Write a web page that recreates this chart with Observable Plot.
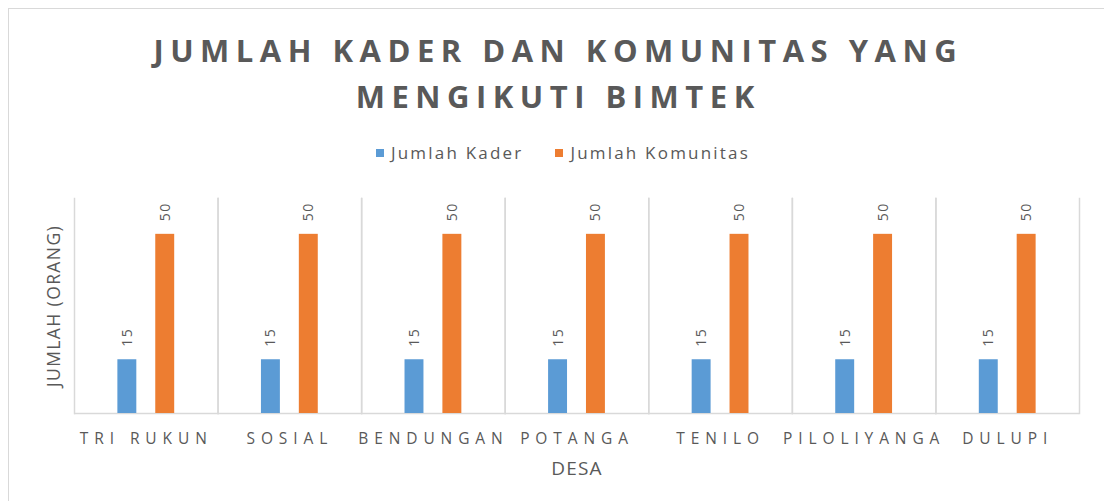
<!DOCTYPE html>
<html>
<head>
<meta charset="utf-8">
<script src="https://cdn.jsdelivr.net/npm/d3@7"></script>
<script src="https://cdn.jsdelivr.net/npm/@observablehq/plot@0.6"></script>
<style>
  html, body { margin: 0; padding: 0; background: #fff; width: 1104px; height: 501px; overflow: hidden; }
  body { position: relative; font-family: "Open Sans", sans-serif; color: #595959; }
  #border { position: absolute; left: 8px; top: 8px; width: 1110px; height: 500px; border: 1px solid #d9d9d9; box-sizing: border-box; }
  #title { position: absolute; left: 8px; width: 1094px; top: 27px; text-align: center; font-weight: 700; font-size: 31px; line-height: 46px; letter-spacing: 6.5px; padding-left: 6.5px; box-sizing: border-box; color: #595959; }
  #legend { position: absolute; left: 8px; width: 1110px; top: 141px; display: flex; justify-content: center; gap: 32px; font-size: 17px; line-height: 24px; letter-spacing: 2.2px; color: #595959; }
  #legend .item { display: flex; align-items: center; }
  #legend .sw { width: 8px; height: 8px; margin-right: 7px; display: inline-block; }
  #chart { position: absolute; left: 0; top: 170px; }
  g[aria-label="fx-axis tick label"] text { letter-spacing: 5.9px; }
  g[aria-label="fx-axis label"] { font-size: 19px; }
  g[aria-label="fx-axis label"] text { letter-spacing: 1.2px; }
  g[aria-label="y-axis label"] text { letter-spacing: 1.4px; }
  g[aria-label="text"] text { letter-spacing: 1.5px; }
</style>
</head>
<body>
<div id="border"></div>
<div id="title"></div>
<div id="legend"></div>
<div id="chart"></div>
<script>
const titleLines = ["JUMLAH KADER DAN KOMUNITAS YANG", "MENGIKUTI BIMTEK"];
const desa = ["TRI RUKUN", "SOSIAL", "BENDUNGAN", "POTANGA", "TENILO", "PILOLIYANGA", "DULUPI"];
const series = ["Jumlah Kader", "Jumlah Komunitas"];
const kader = [15, 15, 15, 15, 15, 15, 15];
const komunitas = [50, 50, 50, 50, 50, 50, 50];
const colors = ["#5B9BD5", "#ED7D31"];
const yDomain = [0, 60];
const xLabel = "DESA";
const yLabel = "JUMLAH (ORANG)";

document.getElementById("title").innerHTML = titleLines.map(t => `<div>${t}</div>`).join("");
document.getElementById("legend").innerHTML = series.map((s, i) =>
  `<span class="item"><span class="sw" style="background:${colors[i]}"></span>${s}</span>`).join("");

const data = desa.flatMap((d, i) => [
  {desa: d, seri: series[0], v: kader[i]},
  {desa: d, seri: series[1], v: komunitas[i]}
]);

const chart = Plot.plot({
  width: 1104,
  height: 320,
  marginLeft: 74,
  marginRight: 25,
  marginTop: 28,
  marginBottom: 77,
  style: {fontFamily: "Open Sans", color: "#595959", fontSize: "15px", background: "transparent"},
  fx: {domain: desa, padding: 0, round: false},
  x: {domain: series, paddingInner: 0.5, paddingOuter: 1.145, round: false, axis: null},
  y: {domain: yDomain},
  color: {domain: series, range: colors},
  marks: [
    Plot.frame({anchor: "left", stroke: "#d9d9d9", strokeWidth: 1.5}),
    Plot.frame({anchor: "right", stroke: "#d9d9d9", strokeWidth: 1.5}),
    Plot.ruleY([0], {stroke: "#d9d9d9", strokeWidth: 1.5}),
    Plot.barY(data, {fx: "desa", x: "seri", y: "v", fill: "seri"}),
    Plot.text(data, {fx: "desa", x: "seri", y: "v", text: d => String(d.v), rotate: -90, textAnchor: "start", dy: -13, fill: "#595959", fontSize: 14}),
    Plot.axisFx({anchor: "bottom", tickSize: 0, tickPadding: 19, fontSize: 15.5, label: xLabel, labelAnchor: "center", labelOffset: 61, labelArrow: "none"}),
    Plot.axisY({anchor: "left", tickSize: 0, tickFormat: () => "", label: yLabel, labelAnchor: "center", labelOffset: 27, labelArrow: "none", fontSize: 17.5})
  ]
});
document.getElementById("chart").appendChild(chart);
</script>
</body>
</html>
